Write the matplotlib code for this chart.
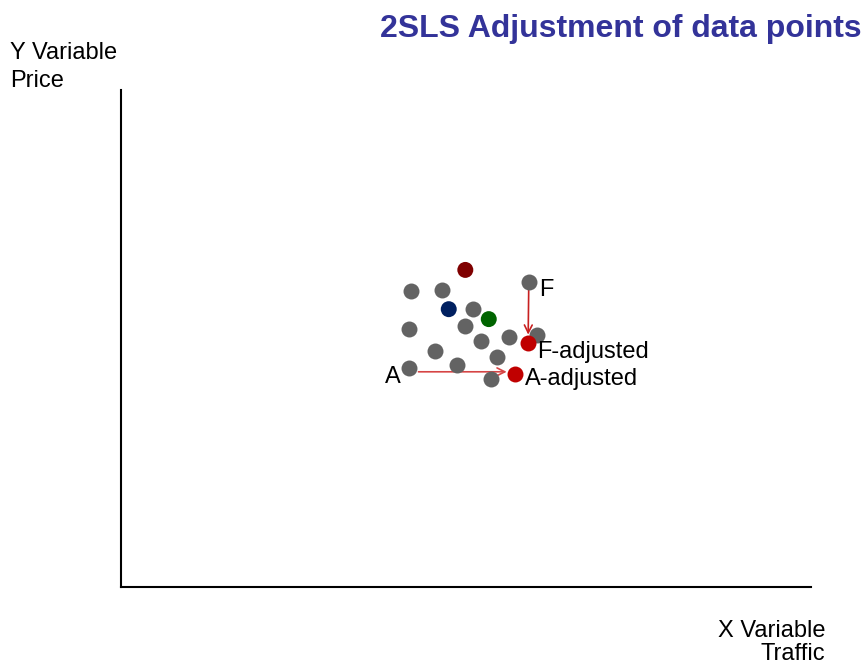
import matplotlib
matplotlib.use("Agg")
import matplotlib.pyplot as plt

plt.rcParams['font.family'] = ['Liberation Sans', 'DejaVu Sans']

# Observed (traffic, price) points
obs_x = [4.20, 4.65, 5.10, 4.17, 4.99, 5.62, 6.03, 5.22, 4.55, 5.45, 4.87, 5.36]
obs_y = [5.96, 5.98, 5.59, 5.19, 5.25, 5.03, 5.07, 4.95, 4.75, 4.63, 4.47, 4.19]

# Highlighted points
special_x = [4.99, 4.75, 5.33]
special_y = [6.38, 5.59, 5.39]
special_colors = ['#7f0000', '#002060', '#006400']

# Points before and after adjustment
pt_a = (4.17, 4.41)
pt_a_adj = (5.71, 4.29)
pt_f = (5.91, 6.14)
pt_f_adj = (5.90, 4.91)

W, H = 866, 667
fig = plt.figure(figsize=(W / 100, H / 100), dpi=100)
ax = fig.add_axes([121 / W, (H - 587) / H, 690 / W, 497 / H])
ax.set_xlim(0, 10)
ax.set_ylim(0, 10)
for s in ['top', 'right']:
    ax.spines[s].set_visible(False)
for s in ['left', 'bottom']:
    ax.spines[s].set_linewidth(1.5)
    ax.spines[s].set_color('black')
ax.set_xticks([])
ax.set_yticks([])

size = 132
grey = '#636363'
ax.scatter(obs_x, obs_y, s=size, color=grey, zorder=3, linewidths=0)
ax.scatter([pt_a[0], pt_f[0]], [pt_a[1], pt_f[1]], s=size, color=grey, zorder=3, linewidths=0)
ax.scatter(special_x, special_y, s=size, color=special_colors, zorder=3, linewidths=0)
ax.scatter([pt_a_adj[0], pt_f_adj[0]], [pt_a_adj[1], pt_f_adj[1]], s=size,
           color='#c00000', zorder=4, linewidths=0)

# Adjustment arrows
ax.annotate('', xy=(pt_a_adj[0], pt_a[1] - 0.08), xytext=(pt_a[0], pt_a[1] - 0.08),
            arrowprops=dict(arrowstyle='->', color='#d64545', lw=1.2,
                            shrinkA=7, shrinkB=6, mutation_scale=14), zorder=2)
ax.annotate('', xy=pt_f_adj, xytext=pt_f,
            arrowprops=dict(arrowstyle='->', color='#c82020', lw=1.2,
                            shrinkA=3, shrinkB=6, mutation_scale=14), zorder=2)

lab = dict(textcoords='offset pixels', fontsize=17, va='center', color='black')
ax.annotate('A', xy=pt_a, xytext=(-8, -9), ha='right', **lab)
ax.annotate('F', xy=pt_f, xytext=(10, -8), ha='left', **lab)
ax.annotate('F-adjusted', xy=pt_f_adj, xytext=(9, -9), ha='left', **lab)
ax.annotate('A-adjusted', xy=pt_a_adj, xytext=(10, -5), ha='left', **lab)

def px(x, y):
    return x / W, 1 - y / H

fig.text(*px(862, 37), '2SLS Adjustment of data points', ha='right', va='baseline',
         fontsize=23, fontweight='bold', color='#333399')
fig.text(*px(10, 59), 'Y Variable', ha='left', va='baseline', fontsize=17)
fig.text(*px(10, 87), 'Price', ha='left', va='baseline', fontsize=17)
fig.text(*px(825, 637), 'X Variable', ha='right', va='baseline', fontsize=17)
fig.text(*px(825, 660), 'Traffic', ha='right', va='baseline', fontsize=17)

fig.savefig('out.png', dpi=100)
